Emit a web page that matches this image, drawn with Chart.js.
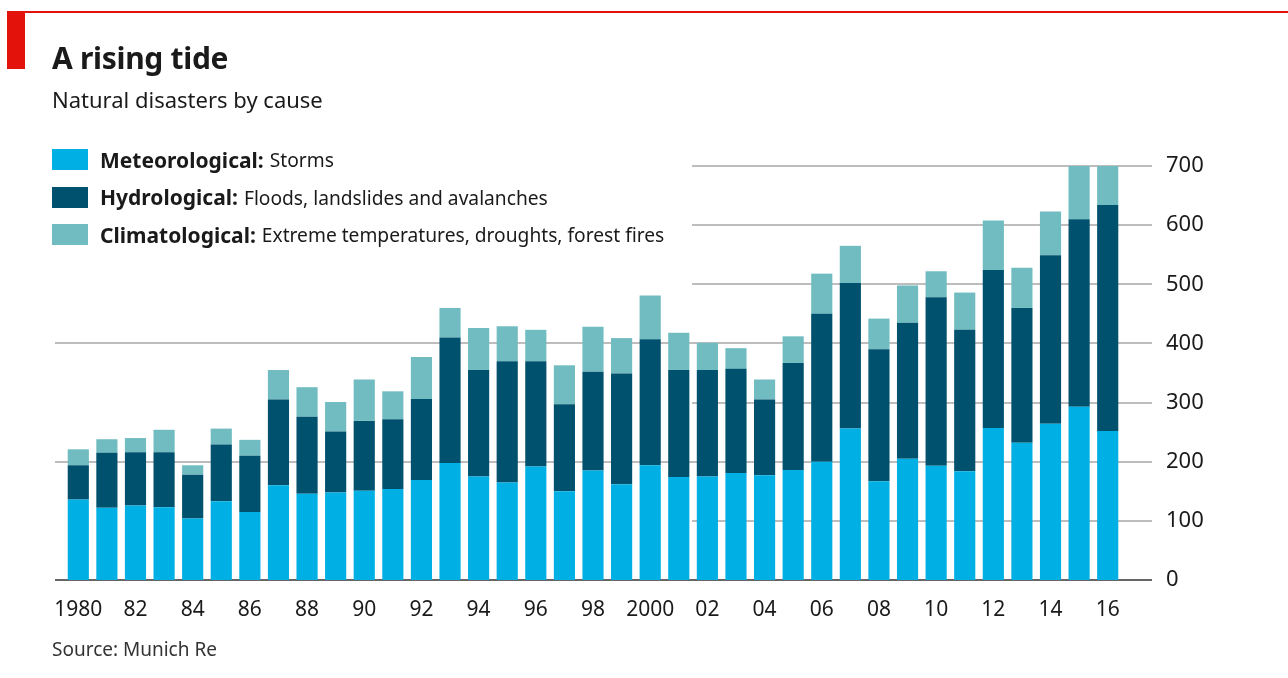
<!DOCTYPE html>
<html>
<head>
<meta charset="utf-8">
<script src="https://cdn.jsdelivr.net/npm/chart.js@4/dist/chart.umd.min.js"></script>
<style>
  body { margin: 0; background: #fff; font-family: "Noto Sans", sans-serif; color: #1a1a1a; }
  #wrap { position: relative; width: 1288px; height: 678px; overflow: hidden; }
  #grafico { position: absolute; left: 0; top: 0; }
  .redline { position: absolute; left: 7px; top: 11px; width: 1281px; height: 2px; background: #e3120b; }
  .redbox { position: absolute; left: 7px; top: 12px; width: 18px; height: 57px; background: #e3120b; }
  .title { position: absolute; left: 52px; top: 37px; font-size: 30px; font-weight: bold; letter-spacing: -0.3px; }
  .sub { position: absolute; left: 52px; top: 84px; font-size: 22px; }
  .legend { position: absolute; left: 52px; top: 141px; font-size: 19.2px; }
  .legend div { height: 37.5px; display: flex; align-items: center; }
  .legend span.sw { display: inline-block; width: 36px; height: 21px; margin-right: 12px; }
  .legend b { font-size: 21px; margin-right: 6px; }
  .source { position: absolute; left: 52px; top: 636px; font-size: 19px; color: #333; }
</style>
</head>
<body>
<div id="wrap">
  <canvas id="grafico" width="1288" height="678"></canvas>
  <div class="redline"></div>
  <div class="redbox"></div>
  <div class="title">A rising tide</div>
  <div class="sub">Natural disasters by cause</div>
  <div class="legend" id="legend"></div>
  <div class="source">Source: Munich Re</div>
</div>
<script>
const years = ['1980','1981','1982','1983','1984','1985','1986','1987','1988','1989',
  '1990','1991','1992','1993','1994','1995','1996','1997','1998','1999',
  '2000','2001','2002','2003','2004','2005','2006','2007','2008','2009',
  '2010','2011','2012','2013','2014','2015','2016'];
const tickLabels = ['1980','','82','','84','','86','','88','','90','','92','','94','','96','','98','',
  '2000','','02','','04','','06','','08','','10','','12','','14','','16'];

const meteorological = [136,122,126,123,104,133,115,160,146,148,151,154,169,198,175,165,192,150,185,162,
  194,174,175,181,177,186,200,256,167,205,193,184,257,232,264,293,252];
const hydrological = [58,93,90,93,74,96,95,145,130,103,118,118,137,212,180,205,178,147,167,187,
  213,181,180,176,128,181,250,246,223,230,285,239,267,228,285,317,382];
const climatological = [27,23,24,38,16,27,27,50,50,50,70,47,71,50,71,59,53,66,76,60,
  74,63,46,35,34,45,68,63,52,63,44,63,84,68,74,90,66];

const yTicks = [0,100,200,300,400,500,600,700];

const seriesInfo = [
  { name: 'Meteorological:', desc: 'Storms', color: '#00b0e4', data: meteorological },
  { name: 'Hydrological:', desc: 'Floods, landslides and avalanches', color: '#00516e', data: hydrological },
  { name: 'Climatological:', desc: 'Extreme temperatures, droughts, forest fires', color: '#70bcc0', data: climatological }
];

// legend en HTML
const leg = document.getElementById('legend');
seriesInfo.forEach(s => {
  const row = document.createElement('div');
  row.innerHTML = '<span class="sw" style="background:' + s.color + '"></span><b>' + s.name + '</b>' + s.desc;
  leg.appendChild(row);
});

// gridlines: 0/200/400 run full width, the rest start right of the legend
const gridPlugin = {
  id: 'gridPlugin',
  beforeDatasetsDraw(chart) {
    const ctx = chart.ctx;
    const y = chart.scales.y;
    ctx.save();
    yTicks.forEach(v => {
      const py = Math.round(y.getPixelForValue(v));
      const x0 = (v === 0 || v === 200 || v === 400) ? 55 : 692;
      ctx.beginPath();
      ctx.strokeStyle = v === 0 ? '#666' : '#bdbdbd';
      ctx.lineWidth = 2;
      ctx.moveTo(x0, py);
      ctx.lineTo(1152, py);
      ctx.stroke();
    });
    ctx.restore();
  }
};

const ctx = document.getElementById('grafico').getContext('2d');
const grafico = new Chart(ctx, {
  type: 'bar',
  data: {
    labels: years,
    datasets: seriesInfo.map(s => ({
      label: s.name,
      data: s.data,
      backgroundColor: s.color,
      categoryPercentage: 0.74,
      barPercentage: 1.0
    }))
  },
  options: {
    responsive: false,
    animation: false,
    layout: { padding: { left: 64, right: 36, top: 166, bottom: 53 } },
    plugins: { legend: { display: false }, tooltip: { enabled: false } },
    scales: {
      x: {
        stacked: true,
        grid: { display: false },
        border: { display: false },
        afterFit: (axis) => { axis.height = 45; axis.paddingLeft = 0; axis.paddingRight = 0; },
        ticks: {
          autoSkip: false, maxRotation: 0, padding: 9,
          color: '#1a1a1a',
          font: { family: 'Noto Sans', size: 21 },
          callback: (val, i) => tickLabels[i]
        }
      },
      y: {
        stacked: true,
        position: 'right',
        min: 0, max: 700,
        afterBuildTicks: (axis) => { axis.ticks = yTicks.map(v => ({ value: v })); },
        afterFit: (axis) => { axis.width = 130; },
        grid: { display: false },
        border: { display: false },
        ticks: {
          padding: 36,
          crossAlign: 'near',
          color: '#1a1a1a',
          font: { family: 'Noto Sans', size: 22 }
        }
      }
    }
  },
  plugins: [gridPlugin]
});
</script>
</body>
</html>
